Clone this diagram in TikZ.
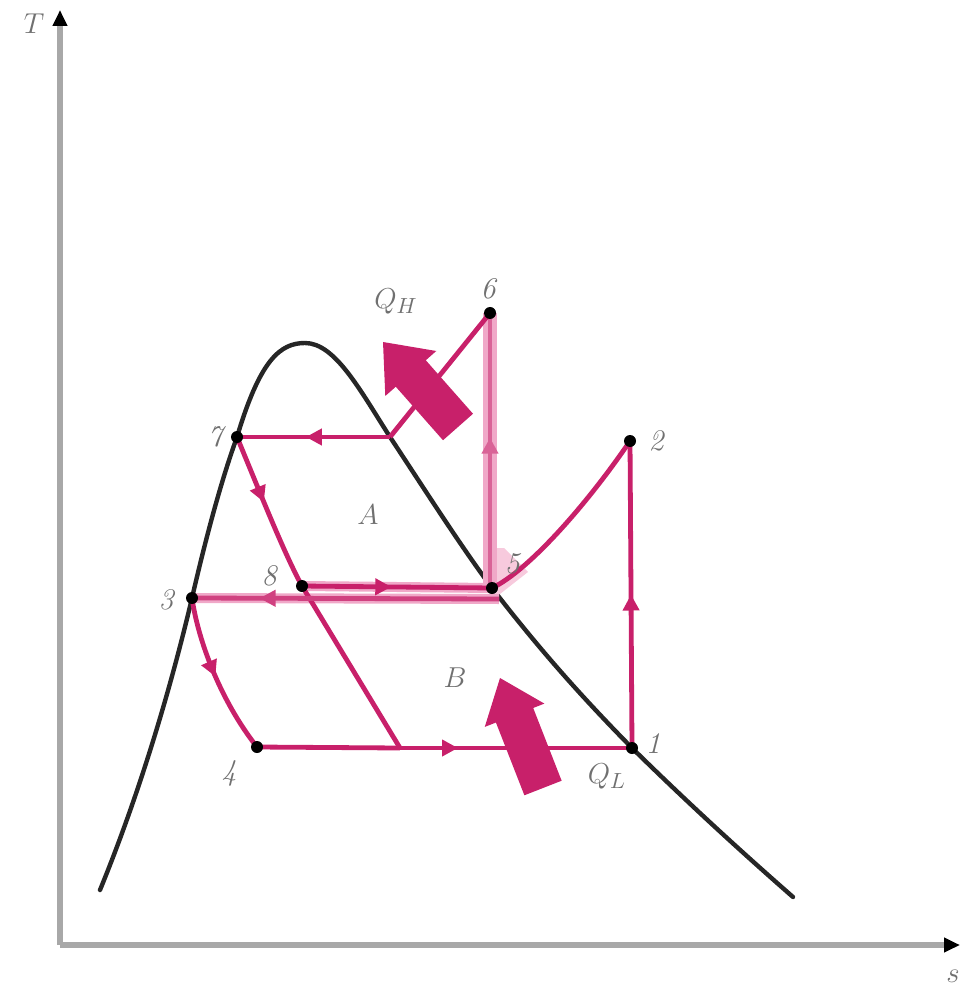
\documentclass[tikz,border=0pt]{standalone}
\usetikzlibrary{arrows.meta,decorations.markings,calc}
\definecolor{mag}{HTML}{C8206A}
\definecolor{halo}{HTML}{F0A8C8}
\definecolor{patch}{HTML}{F7CADD}
\definecolor{lbl}{HTML}{707070}
\definecolor{axisgray}{HTML}{A8A8A8}
\begin{document}
\begin{tikzpicture}[x=0.5pt,y=-0.5pt,
  mline/.style={draw=mag,line width=2.4pt,line join=round},
  haloline/.style={draw=halo,line width=7pt},
  mid/.style={postaction={decorate,decoration={markings,
     mark=at position #1 with {\arrow{Triangle[length=8pt,width=8pt]}}}}},
  dot/.style={circle,fill=black,inner sep=0pt,minimum size=6pt},
  lab/.style={text=lbl,font=\fontsize{15}{18}\selectfont\itshape,inner sep=1pt},
  bigarrow/.style={fill=mag,draw=none}]
\useasboundingbox (0,0) rectangle (963,988);

% axes
\coordinate (O) at (60,945);
\coordinate (Ttop) at (60,10);
\coordinate (Send) at (960,945);
\draw[axisgray,line width=3pt,-{Triangle[length=8pt,width=7pt,color=black]}] (O) -- (Ttop);
\draw[axisgray,line width=3pt,-{Triangle[length=8pt,width=7pt,color=black]}] (O) -- (Send);
\node[lab] (Tl) at (34,24) {$T$};
\node[lab] (sl) at (953,976) {$s$};

% saturation dome
\draw[black!85,line width=2.2pt,line cap=round]
  (100,890) .. controls (145,780) and (175,670) .. (192,598)
  .. controls (210,520) and (225,470) .. (237,437)
  .. controls (260,360) and (280,343) .. (305,343)
  .. controls (335,343) and (360,390) .. (390,437)
  .. controls (425,490) and (460,545) .. (492,588)
  .. controls (540,650) and (580,695) .. (632,748)
  .. controls (690,805) and (745,855) .. (793,897);

% state points
\coordinate (p1) at (632,748);
\coordinate (p2) at (630,441);
\coordinate (p3) at (192,598);
\coordinate (p4) at (257,747);
\coordinate (p5) at (492,588);
\coordinate (p6) at (490,313);
\coordinate (p7) at (237,437);
\coordinate (p8) at (302,586);
\coordinate (i7) at (390,437);
\coordinate (e) at (400,748);
\coordinate (c53) at (499,599);
\coordinate (b5) at (490,590);

% light patch near 5
\fill[patch] (493,548) -- (504,548) -- (528,572) -- (500,594) -- (493,594) -- cycle;

% halo lines
\draw[haloline] (b5) -- (p6);
\draw[draw=halo,line width=5pt] (p8) -- (p5);
\draw[draw=halo,line width=5pt] (c53) -- (p3);

% cycle lines
\draw[mline,draw=mag!70!white,mid=0.55] (b5) -- (p6);
\draw[mline] (p6) -- (i7);
\draw[mline,mid=0.55] (i7) -- (p7);
\draw[mline,mid=0.2] (p7) .. controls (263,500) and (285,555) .. (p8) -- (e);
\draw[mline,mid=0.47] (p8) -- (p5);
\draw[mline,draw=mag!85!white,mid=0.78] (c53) -- (p3);
\draw[mline,mid=0.5] (p3) .. controls (198,640) and (220,700) .. (p4);
\draw[mline] (p4) -- (e);
\draw[mline,mid=0.25] (e) -- (p1);
\draw[mline] (p5) .. controls (530,570) and (590,500) .. (p2);
\draw[mline,mid=0.5] (p1) -- (p2);

% big heat arrows
\coordinate (qht) at (458,427);
\coordinate (qhp) at (383,342);
\coordinate (qhb) at ($(qhp)!21pt!(qht)$);
\fill[bigarrow] ($(qht)!10pt!90:(qhp)$) -- ($(qhb)!10pt!90:(qhp)$) -- ($(qhb)!17pt!90:(qhp)$)
  -- (qhp) -- ($(qhb)!17pt!-90:(qhp)$) -- ($(qhb)!10pt!-90:(qhp)$) -- ($(qht)!10pt!-90:(qhp)$) -- cycle;
\coordinate (qlt) at (543,788);
\coordinate (qlp) at (500,678);
\coordinate (qlb) at ($(qlp)!20pt!(qlt)$);
\fill[bigarrow] ($(qlt)!10pt!90:(qlp)$) -- ($(qlb)!10pt!90:(qlp)$) -- ($(qlb)!16pt!90:(qlp)$)
  -- (qlp) -- ($(qlb)!16pt!-90:(qlp)$) -- ($(qlb)!10pt!-90:(qlp)$) -- ($(qlt)!10pt!-90:(qlp)$) -- cycle;

% dots
\node[dot] (d1) at (p1) {};
\node[dot] (d2) at (p2) {};
\node[dot] (d3) at (p3) {};
\node[dot] (d4) at (p4) {};
\node[dot] (d5) at (p5) {};
\node[dot] (d6) at (p6) {};
\node[dot] (d7) at (p7) {};
\node[dot] (d8) at (p8) {};

% labels
\node[lab] (l1) at (653,744) {1};
\node[lab] (l2) at (656,441) {2};
\node[lab] (l3) at (166,600) {3};
\node[lab] (l4) at (229,773) {4};
\node[lab] (l5) at (512,564) {5};
\node[lab] (l6) at (488,289) {6};
\node[lab] (l7) at (215,437) {7};
\node[lab] (l8) at (269,576) {8};
\node[lab] (lA) at (368,515) {$A$};
\node[lab] (lB) at (455,678) {$B$};
\node[lab] (lQH) at (396,301) {$Q_H$};
\node[lab] (lQL) at (607,776) {$Q_L$};
\end{tikzpicture}
\end{document}
